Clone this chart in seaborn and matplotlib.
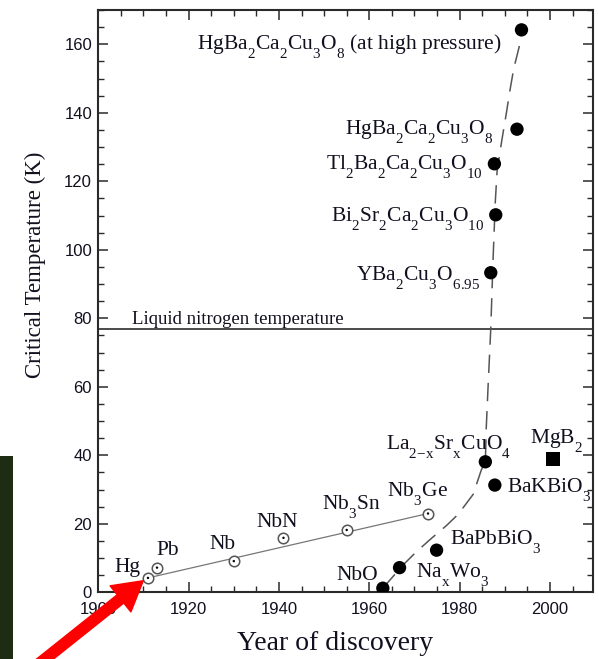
import matplotlib
matplotlib.use("Agg")
import matplotlib.pyplot as plt
import seaborn as sns
from matplotlib.patches import Rectangle, FancyArrowPatch, ArrowStyle
from matplotlib.ticker import MultipleLocator

# deeper subscripts, as in the original typesetting
try:
    import matplotlib._mathtext as _mt
    _mt.FontConstantsBase.sub1 = 0.95
    _mt.FontConstantsBase.sub2 = 0.95
except Exception:
    pass

# ---------------- data ----------------
conv_names = ["Hg", "Pb", "Nb", "NbN", r"Nb$_3$Sn", r"Nb$_3$Ge"]
conv_years = [1911, 1913, 1930, 1941, 1955, 1973]
conv_tc = [4.2, 7.2, 9.1, 15.9, 18.2, 23.0]

new_names = ["NbO", r"Na$_\mathrm{x}$Wo$_3$", r"BaPbBiO$_3$",
             r"La$_{\mathrm{2\!-\!x}}$Sr$_\mathrm{x}$CuO$_4$", r"BaKBiO$_3$",
             r"YBa$_2$Cu$_3$O$_{6.95}$", r"Bi$_2$Sr$_2$Ca$_2$Cu$_3$O$_{10}$",
             r"Tl$_2$Ba$_2$Ca$_2$Cu$_3$O$_{10}$", r"HgBa$_2$Ca$_2$Cu$_3$O$_8$",
             r"HgBa$_2$Ca$_2$Cu$_3$O$_8$ (at high pressure)"]
new_years = [1963.0, 1966.7, 1974.9, 1985.7, 1987.8, 1986.9, 1988.0, 1987.7, 1992.7, 1993.7]
new_tc = [1.2, 7.2, 12.3, 38.1, 31.3, 93.3, 110.2, 125.1, 135.2, 164.2]

mgb2_name = [r"MgB$_2$"]
mgb2_year = [2000.7]
mgb2_tc = [38.8]

# hand-drawn dashed trend line
trend_years = [1963.0, 1967.5, 1970.4, 1973.8, 1977.1, 1979.7, 1983.0, 1984.8, 1985.7,
               1985.9, 1986.3, 1986.9, 1987.4, 1987.9, 1988.3, 1989.3, 1990.4, 1991.1,
               1992.0, 1993.2, 1993.7]
trend_tc = [1.2, 8.0, 11.8, 15.8, 19.5, 22.8, 28.6, 35.7, 38.1,
            48.0, 60.0, 77.0, 97.0, 114.0, 123.0, 131.6, 140.3, 146.2,
            153.0, 159.3, 163.0]

ln2_temp = 77
ln2_label = "Liquid nitrogen temperature"

x_ticks = [1900, 1920, 1940, 1960, 1980, 2000]
y_ticks = [0, 20, 40, 60, 80, 100, 120, 140, 160]
x_label = "Year of discovery"
y_label = "Critical Temperature (K)"

# ---------------- layout (label offsets in pixels) ----------------
conv_layout = [(-8, 5.6, "right"), (-0.7, 12.3, "left"), (-24.3, 12.4, "left"),
               (-26.6, 11, "left"), (-24.7, 20, "left"), (-40.6, 16.7, "left")]
new_layout = [(-4.4, 8.3, "right"), (16.7, -10, "left"), (13.3, 5.7, "left"),
              (-99, 12.4, "left"), (11.7, -7.7, "left"), (-10.7, -7.3, "right"),
              (-11, -6.7, "right"), (-11, -6, "right"), (-24, -5.7, "right"),
              (-19.7, -20, "right")]
mgb2_layout = [(-23.3, 16, "left")]

# ---------------- style ----------------
sns.set_theme(style="ticks")
plt.rcParams["font.family"] = ["Liberation Serif", "DejaVu Serif"]
plt.rcParams["mathtext.fontset"] = "custom"
plt.rcParams["mathtext.rm"] = "Liberation Serif"
plt.rcParams["mathtext.it"] = "Liberation Serif:italic"
plt.rcParams["mathtext.bf"] = "Liberation Serif:bold"

text_color = "#10101f"
fig = plt.figure(figsize=(5.99, 6.59), dpi=100)
ax = fig.add_axes([98.3 / 599, 1 - 592.3 / 659, 495 / 599, 582.3 / 659])
ax.set_facecolor("white")

# lines
ax.axhline(ln2_temp, color="#1a1a1a", lw=1.1, zorder=2)
sns.lineplot(x=[conv_years[0], conv_years[-1]], y=[conv_tc[0], conv_tc[-1]],
             sort=False, estimator=None, color="#777777", lw=0.9, ax=ax, zorder=2)
sns.lineplot(x=trend_years, y=trend_tc, sort=False, estimator=None, color="#555555",
             lw=1.1, linestyle=(0, (12, 6.5)), ax=ax, zorder=2)

# markers
sns.scatterplot(x=conv_years, y=conv_tc, marker="o", s=57, color="white",
                edgecolor="#555555", linewidth=1.1, ax=ax, zorder=4)
sns.scatterplot(x=conv_years, y=conv_tc, marker="o", s=3, color="black",
                edgecolor="none", ax=ax, zorder=5)
sns.scatterplot(x=new_years, y=new_tc, marker="o", s=92, color="black",
                edgecolor="none", ax=ax, zorder=4)
sns.scatterplot(x=mgb2_year, y=mgb2_tc, marker="s", s=100, color="black",
                edgecolor="none", ax=ax, zorder=4)

# labels
def put_labels(names, xs, ys, layout):
    for name, x, y, (dx, dy, ha) in zip(names, xs, ys, layout):
        ax.annotate(name, xy=(x, y), xytext=(dx, dy), textcoords="offset pixels",
                    ha=ha, va="baseline", fontsize=15.5, color=text_color, zorder=6)

put_labels(conv_names, conv_years, conv_tc, conv_layout)
put_labels(new_names, new_years, new_tc, new_layout)
put_labels(mgb2_name, mgb2_year, mgb2_tc, mgb2_layout)

ax.annotate(ln2_label, xy=(1900, ln2_temp), xytext=(34, 5), textcoords="offset pixels",
            ha="left", va="baseline", fontsize=13.5, color=text_color)

# axes
ax.set_xlim(1900, 2009.6)
ax.set_ylim(0, 170)
ax.set_xticks(x_ticks)
ax.set_yticks(y_ticks)
ax.xaxis.set_minor_locator(MultipleLocator(5))
ax.yaxis.set_minor_locator(MultipleLocator(5))
ax.tick_params(which="both", direction="in", top=True, right=True, colors="#2a2a2a",
               labelcolor=text_color)
ax.tick_params(which="major", length=7.5, width=1.1)
ax.tick_params(which="minor", length=4, width=1.0)
ax.tick_params(axis="y", pad=4.5, labelsize=12)
ax.tick_params(axis="x", pad=7, labelsize=12)
for lab in ax.get_xticklabels() + ax.get_yticklabels():
    lab.set_fontfamily(["Liberation Sans", "DejaVu Sans"])
for sp in ax.spines.values():
    sp.set_linewidth(1.5)
    sp.set_color("#2a2a2a")

ax.set_xlabel(x_label, fontsize=20, color=text_color)
ax.set_ylabel(y_label, fontsize=16.5, color=text_color)
ax.xaxis.set_label_coords(0.478, -0.066)
ax.yaxis.set_label_coords(-0.106, 0.562)

# screenshot decorations: dark background strip and red arrow
fig.add_artist(Rectangle((0, 0), 13 / 599, 203 / 659, transform=fig.transFigure,
                         facecolor="#1e2c14", edgecolor="none", zorder=10))
arrow = FancyArrowPatch((30 / 599, -12 / 659), (143.3 / 599, 78.3 / 659),
                        transform=fig.transFigure,
                        arrowstyle=ArrowStyle("simple", head_length=21, head_width=24,
                                              tail_width=7.6),
                        mutation_scale=1, color="#ff0000", shrinkA=0, shrinkB=0,
                        zorder=11)
fig.add_artist(arrow)

fig.savefig("out.png", dpi=100)
